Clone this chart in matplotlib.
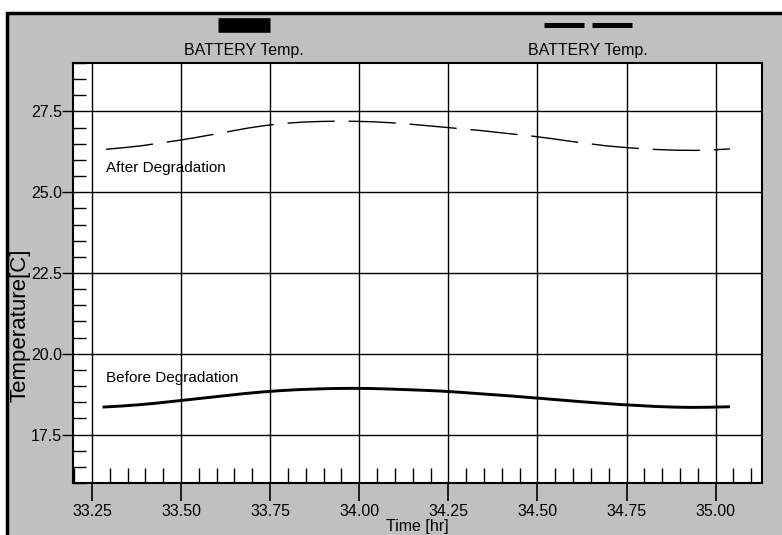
import numpy as np
import matplotlib.pyplot as plt
from matplotlib.lines import Line2D
from matplotlib.patches import Rectangle
from matplotlib.ticker import MultipleLocator

plt.rcParams['font.family'] = ['Liberation Sans', 'DejaVu Sans']

# Temperature before degradation (solid)
before_t = [33.28, 33.33, 33.38, 33.43, 33.48, 33.53, 33.58, 33.63, 33.68, 33.73, 33.78, 33.83,
            33.88, 33.93, 33.98, 34.03, 34.08, 34.13, 34.18, 34.23, 34.28, 34.33, 34.38, 34.43,
            34.48, 34.53, 34.58, 34.63, 34.68, 34.73, 34.78, 34.83, 34.88, 34.93, 34.98, 35.04]
before_temp = [18.35, 18.38, 18.42, 18.47, 18.53, 18.59, 18.65, 18.71, 18.77, 18.82, 18.86, 18.89,
               18.91, 18.925, 18.93, 18.925, 18.91, 18.89, 18.87, 18.845, 18.81, 18.77, 18.73, 18.69,
               18.645, 18.60, 18.555, 18.51, 18.47, 18.43, 18.40, 18.37, 18.35, 18.34, 18.345, 18.36]

# Temperature after degradation (dashed)
after_t = [33.29, 33.34, 33.39, 33.44, 33.49, 33.54, 33.59, 33.64, 33.69, 33.74, 33.79, 33.84,
           33.89, 33.94, 33.99, 34.04, 34.09, 34.14, 34.19, 34.24, 34.29, 34.34, 34.39, 34.44,
           34.49, 34.54, 34.59, 34.64, 34.69, 34.74, 34.79, 34.84, 34.89, 34.94, 34.99, 35.04]
after_temp = [26.33, 26.38, 26.44, 26.52, 26.60, 26.69, 26.79, 26.89, 26.99, 27.07, 27.13, 27.17,
              27.19, 27.20, 27.195, 27.18, 27.15, 27.11, 27.06, 27.01, 26.96, 26.91, 26.85, 26.79,
              26.73, 26.66, 26.58, 26.51, 26.44, 26.39, 26.35, 26.32, 26.30, 26.295, 26.31, 26.34]

x_ticks = [33.25, 33.50, 33.75, 34.00, 34.25, 34.50, 34.75, 35.00]
y_ticks = [17.5, 20.0, 22.5, 25.0, 27.5]

W, H = 782, 535
fig = plt.figure(figsize=(W / 100, H / 100), dpi=100, facecolor='white')

# grey panel with black border on left/top
fig.add_artist(Rectangle((7 / W, -0.02), 1.1, 1 - 13 / H + 0.02, transform=fig.transFigure,
                         facecolor='#c0c0c0', edgecolor='black', lw=2.5, zorder=-10))

ax = fig.add_axes([73 / W, 1 - 483 / H, (762 - 73) / W, (483 - 63) / H])
ax.set_facecolor('white')

ax.plot(before_t, before_temp, color='black', lw=2.1, solid_capstyle='butt')
ax.plot(after_t, after_temp, color='black', lw=1.0, dashes=(34, 10))

ax.set_xlim(33.197, 35.13)
ax.set_ylim(16.0, 29.0)
ax.set_xticks(x_ticks)
ax.set_xticklabels(['%.2f' % v for v in x_ticks])
ax.set_yticks(y_ticks)
ax.set_yticklabels(['%.1f' % v for v in y_ticks])
ax.xaxis.set_minor_locator(MultipleLocator(0.05))
ax.yaxis.set_minor_locator(MultipleLocator(0.5))

ax.tick_params(axis='x', which='major', direction='out', length=13, width=1.2,
               labelsize=11.5, pad=2, color='black')
ax.tick_params(axis='y', which='major', direction='out', length=8, width=1.0,
               labelsize=11.5, pad=0, color='black')
ax.tick_params(axis='x', which='minor', direction='in', length=11, width=1.0)
ax.tick_params(axis='y', which='minor', direction='in', length=9, width=1.0)

ax.grid(True, which='major', color='black', lw=1.0)
ax.set_axisbelow(True)
for s in ax.spines.values():
    s.set_linewidth(1.5)
    s.set_color('black')

ax.text(33.29, 25.75, 'After Degradation', fontsize=11, va='center', ha='left')
ax.text(33.29, 19.25, 'Before Degradation', fontsize=11, va='center', ha='left')

# legend drawn at the top of the panel
fig.add_artist(Line2D([218 / W, 270 / W], [1 - 24.5 / H, 1 - 24.5 / H], transform=fig.transFigure,
                      color='black', lw=10.5, solid_capstyle='butt'))
fig.text(244 / W, 1 - 50 / H, 'BATTERY Temp.', fontsize=11.5, ha='center', va='center')
fig.add_artist(Line2D([544 / W, 632 / W], [1 - 24.5 / H, 1 - 24.5 / H], transform=fig.transFigure,
                      color='black', lw=3.6, dashes=(8.0, 1.6), dash_capstyle='butt'))
fig.text(588 / W, 1 - 50 / H, 'BATTERY Temp.', fontsize=11.5, ha='center', va='center')

fig.text(20 / W, 1 - 325 / H, 'Temperature[C]', fontsize=16, rotation=90, ha='center', va='center')
fig.text(417 / W, 1 - 526 / H, 'Time [hr]', fontsize=11.5, ha='center', va='center')

fig.savefig('out.png', dpi=100, facecolor=fig.get_facecolor())
